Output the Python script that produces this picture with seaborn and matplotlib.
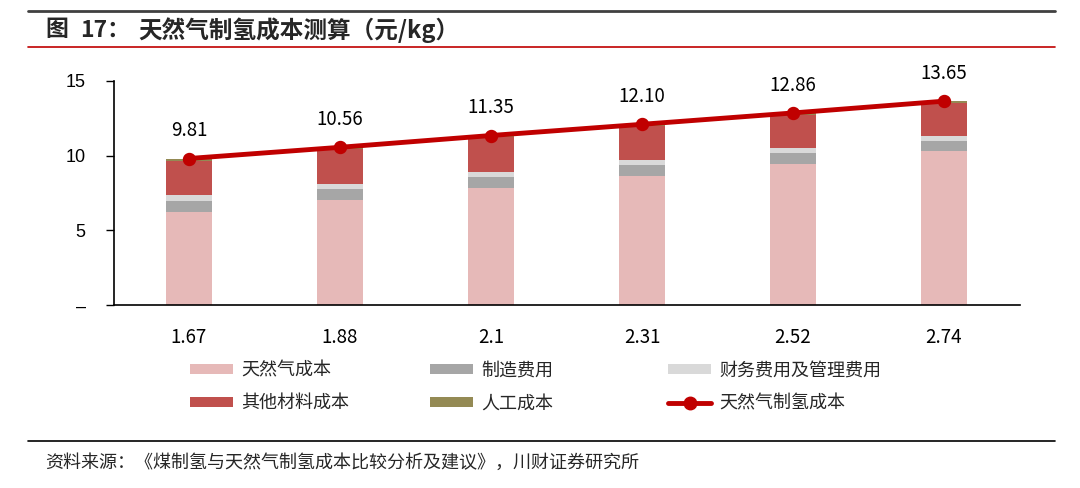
import numpy as np
import matplotlib
matplotlib.use("Agg")
import matplotlib.pyplot as plt
import seaborn as sns
import pandas as pd
from matplotlib.patches import Patch
from matplotlib.lines import Line2D

# gas price (x) and stacked cost items (yuan/kg)
prices = ["1.67", "1.88", "2.1", "2.31", "2.52", "2.74"]
gas_cost = [6.25, 7.03, 7.85, 8.66, 9.44, 10.28]
manuf_cost = [0.74, 0.74, 0.73, 0.72, 0.72, 0.71]
fin_admin_cost = [0.36, 0.35, 0.35, 0.34, 0.33, 0.34]
other_material = [2.32, 2.31, 2.29, 2.25, 2.24, 2.19]
labor_cost = [0.14, 0.13, 0.13, 0.13, 0.13, 0.13]
total_cost = [9.81, 10.56, 11.35, 12.10, 12.86, 13.65]

layers = ["天然气成本", "制造费用", "财务费用及管理费用", "其他材料成本", "人工成本"]
colors = ["#E6B9B8", "#A6A6A6", "#D9D9D9", "#C0504D", "#948A54"]
line_name = "天然气制氢成本"
line_color = "#C00000"

df = pd.DataFrame({
    "price": prices,
    layers[0]: gas_cost,
    layers[1]: manuf_cost,
    layers[2]: fin_admin_cost,
    layers[3]: other_material,
    layers[4]: labor_cost,
    line_name: total_cost,
})

sns.set_theme(style="white")
plt.rcParams["font.family"] = ["Noto Sans CJK SC", "DejaVu Sans"]

W, H = 1080, 488
fig = plt.figure(figsize=(W / 100, H / 100), dpi=100)
ax = fig.add_axes([113.5 / W, 1 - 305 / H, 906 / W, 224 / H])

bottom = np.zeros(len(prices))
for name, col in zip(layers, colors):
    sns.barplot(data=df, x="price", y=name, order=prices, color=col,
                width=0.31, bottom=bottom, ax=ax, saturation=1,
                edgecolor="none", linewidth=0)
    bottom = bottom + df[name].values

sns.pointplot(data=df, x="price", y=line_name, order=prices, color=line_color,
              markers="o", markersize=7, linewidth=3.5, ax=ax)

for i, v in enumerate(total_cost):
    ax.annotate(f"{v:.2f}", (i, v), xytext=(0, 20), textcoords="offset points",
                ha="center", va="center", fontsize=13.5, color="black")

ax.set_xlim(-0.5, 5.5)
ax.set_ylim(0, 15)
ax.set_yticks([0, 5, 10, 15])
ax.set_yticklabels(["–", "5", "10", "15"], fontsize=13, family="Liberation Sans")
ax.set_xticklabels(prices, fontsize=13.5)
ax.tick_params(axis="y", left=True, length=6, width=1, pad=14, colors="black")
ax.tick_params(axis="x", bottom=False, pad=10, colors="black")
ax.set_xlabel("")
ax.set_ylabel("")
for s in ["top", "right"]:
    ax.spines[s].set_visible(False)
for s in ["left", "bottom"]:
    ax.spines[s].set_color("black")
    ax.spines[s].set_linewidth(1.2)

# legend: three columns of two rows each
handles = [Patch(facecolor=c, edgecolor="none") for c in colors]
handles.append(Line2D([0], [0], color=line_color, lw=3.5, marker="o", markersize=9))
labels = layers + [line_name]
col_groups = [[0, 3], [1, 4], [2, 5]]
col_x = [190, 430, 668]
for grp, x0 in zip(col_groups, col_x):
    leg = fig.legend([handles[i] for i in grp], [labels[i] for i in grp],
                     loc="center left", bbox_to_anchor=(x0 / W, 1 - 387 / H),
                     frameon=False, fontsize=13, handlelength=2.4,
                     handleheight=0.45, handletextpad=0.45, labelspacing=0.8,
                     borderpad=0, borderaxespad=0)

# title block and rules
fig.add_artist(Line2D([28 / W, 1055 / W], [1 - 11 / H, 1 - 11 / H], color="#404040", lw=2))
fig.text(45 / W, 1 - 30 / H, "图", fontsize=16.5, fontweight="bold", va="center", ha="left")
fig.text(80 / W, 1 - 30 / H, "17：", fontsize=16.5, fontweight="bold", va="center", ha="left")
fig.text(138 / W, 1 - 30 / H, "天然气制氢成本测算（元/kg）", fontsize=17,
         fontweight="bold", va="center", ha="left")
fig.add_artist(Line2D([28 / W, 1055 / W], [1 - 47 / H, 1 - 47 / H], color="#C00000", lw=1.2))
fig.add_artist(Line2D([28 / W, 1055 / W], [1 - 441 / H, 1 - 441 / H], color="black", lw=1.2))
fig.text(45 / W, 1 - 463 / H, "资料来源：《煤制氢与天然气制氢成本比较分析及建议》，川财证券研究所",
         fontsize=13, style="italic", va="center", ha="left")

fig.savefig("out.png", dpi=100)
